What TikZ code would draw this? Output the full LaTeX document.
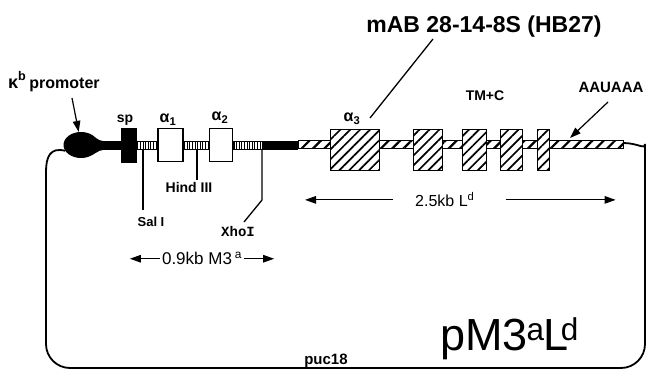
\documentclass[tikz,border=0pt]{standalone}
\usepackage{fontspec}
\setmainfont{Liberation Sans}
\newfontfamily\courierfont{Liberation Mono}
\usetikzlibrary{positioning,arrows.meta,patterns.meta,shapes.geometric}

\begin{document}
\begin{tikzpicture}[x=1pt, y=-1pt,
  lbl/.style={inner sep=0pt, font=\bfseries\fontsize{#1}{#1}\selectfont},
  lbl/.default=14,
  txt/.style={inner sep=0pt, font=\fontsize{#1}{#1}\selectfont},
  txt/.default=16,
  cds/.style={draw, line width=1.5pt, fill=white, minimum height=33pt, inner sep=0pt},
  exon/.style={draw, line width=1.5pt, preaction={fill=white},
    pattern={Lines[angle=45,distance=7pt,line width=1.7pt]},
    minimum height=41pt, inner sep=0pt},
  ticks/.style={draw, line width=0.5pt, preaction={fill=white},
    pattern={Lines[angle=90,distance=2.6pt,line width=1pt]}},
  arr/.style={-{Triangle[length=11pt,width=7.5pt]}, line width=1.2pt},
  site/.style={line width=1.3pt},
  loopline/.style={line width=1.8pt}
]
  \useasboundingbox (0,0) rectangle (648,371);

  % vector backbone
  \fill (95,141) rectangle (121,150);
  \fill (262,141) rectangle (298,150);
  \draw[ticks] (137,141) rectangle (158,149);
  \draw[ticks] (183,141) rectangle (209,149);
  \draw[ticks] (233,141) rectangle (262,149);
  \draw[line width=1pt, preaction={fill=white},
    pattern={Lines[angle=45,distance=8pt,line width=2.2pt]}] (298,141) rectangle (623,149);

  % promoter, leader and exons
  \node[ellipse, fill, minimum width=35pt, minimum height=26pt, inner sep=0pt] (promoter) at (81,145) {};
  \fill (88,134) .. controls (95,136) and (98,141) .. (103,141) -- (103,150)
    .. controls (98,150) and (95,155) .. (88,156) -- cycle;
  \node[fill, minimum width=16pt, minimum height=35pt, inner sep=0pt] (sp) at (129,145.5) {};
  \node[cds, minimum width=25pt] (alpha1) at (170.5,145) {};
  \node[cds, minimum width=23pt] (alpha2) at (221,145) {};
  \node[exon, minimum width=49pt] (alpha3) at (355,150) {};
  \node[exon, minimum width=29pt] (tm1) at (428,150) {};
  \node[exon, minimum width=24pt] (tm2) at (474.5,150) {};
  \node[exon, minimum width=22pt] (tm3) at (511.5,150) {};
  \node[exon, minimum width=12pt] (tm4) at (543.5,150) {};

  % plasmid loop
  \draw[loopline] (promoter.200) .. controls (50,147) and (46,157) .. (46,172)
    [rounded corners=24pt] -- (46,368) -- (645,368) -- (645,168)
    [sharp corners] .. controls (645,150) and (638,143) .. (623,143);

  % labels
  \node[lbl=23, anchor=base] (mab) at (484,33) {mAB 28-14-8S (HB27)};
  \node[lbl=16, anchor=base west] (promlabel) at (8,89) {\fontsize{18}{18}\selectfont κ\raisebox{2pt}{\textsuperscript{b}}\,\fontsize{16}{16}\selectfont promoter};
  \node[lbl, anchor=base] (splabel) at (125,123) {sp};
  \node[lbl=16, anchor=base] (a1label) at (168,123) {α\textsubscript{1}};
  \node[lbl=16, anchor=base] (a2label) at (220,121) {α\textsubscript{2}};
  \node[lbl=16, anchor=base] (a3label) at (352,122) {α\textsubscript{3}};
  \node[lbl, anchor=base] (tmlabel) at (485,101) {TM+C};
  \node[lbl=15, anchor=base] (polya) at (611,93) {AAUAAA};
  \node[lbl, anchor=base] (hind) at (189,193) {Hind III};
  \node[lbl=13, anchor=base] (sal) at (151,227) {Sal I};
  \node[inner sep=0pt, anchor=base, font=\courierfont\bfseries\fontsize{14}{14}\selectfont] (xho) at (238,237) {XhoI};
  \node[txt=17, anchor=base] (mthree) at (202,265) {0.9kb M3\,\textsuperscript{a}};
  \node[txt, anchor=base west] (ld) at (415,207) {2.5kb L\textsuperscript{d}};
  \node[txt=45, anchor=base west] (plasmid) at (440,350) {pM3\kern-1pt\textsuperscript{a}\kern-1pt L\kern-8pt\textsuperscript{d}};
  \node[lbl=15, anchor=base] (puc) at (326,364) {puc18};

  % pointers
  \coordinate (promtail) at (72,98);
  \coordinate (mabtail) at (433,39);
  \coordinate (mabtip) at (370,118);
  \coordinate (polyatail) at (608,102);
  \coordinate (polyatip) at (570,138);
  \draw[arr] (promtail) -- (promoter.100);
  \draw[line width=1.3pt] (mabtail) -- (mabtip);
  \draw[arr] (polyatail) -- (polyatip);

  % restriction sites
  \coordinate (salsite) at (143,149);
  \coordinate (hindsite) at (197,149);
  \coordinate (xhosite) at (262,149);
  \draw[site] (salsite) -- ++(0,61);
  \draw[site] (hindsite) -- ++(0,31);
  \draw[site] (xhosite) -- ++(0,51) -- ++(-18,22);

  % insert sizes
  \draw[arr] ([xshift=-2pt]mthree.west) -- ++(-30,0);
  \draw[arr] ([xshift=2pt]mthree.east) -- ++(30,0);
  \draw[arr] ([xshift=-22pt]ld.west) -- ++(-88,0);
  \draw[arr] ([xshift=31pt]ld.east) -- ++(110,0);
\end{tikzpicture}
\end{document}
